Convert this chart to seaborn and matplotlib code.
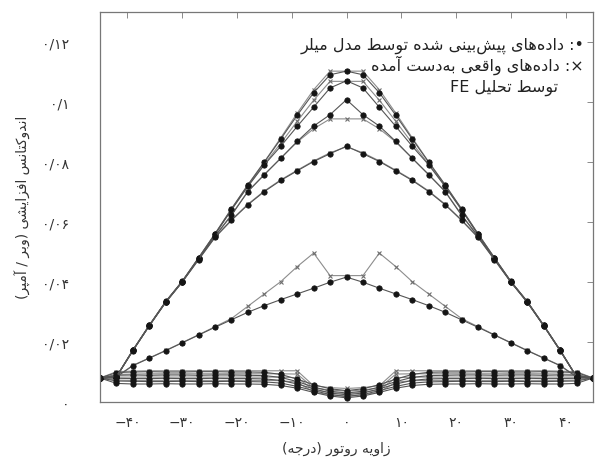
import re
import numpy as np
import pandas as pd
import matplotlib
matplotlib.use("Agg")
import matplotlib.pyplot as plt
import seaborn as sns

# angles sampled every 3 degrees; profiles below are for |angle| = 0, 3, ..., 45
half_angles = [0, 3, 6, 9, 12, 15, 18, 21, 24, 27, 30, 33, 36, 39, 42, 45]

# predicted by the Miller model (dots)
pred_curves = {
    "p1": [0.1102, 0.1090, 0.1030, 0.0955, 0.0876, 0.0799, 0.0723, 0.0643, 0.0560, 0.0480, 0.0402, 0.0335, 0.0256, 0.0173, 0.0084, 0.0080],
    "p2": [0.1070, 0.1046, 0.0982, 0.0918, 0.0852, 0.0790, 0.0718, 0.0640, 0.0558, 0.0479, 0.0401, 0.0334, 0.0255, 0.0172, 0.0084, 0.0080],
    "p3": [0.1007, 0.0957, 0.0919, 0.0868, 0.0812, 0.0757, 0.0701, 0.0622, 0.0552, 0.0477, 0.0400, 0.0333, 0.0254, 0.0172, 0.0084, 0.0080],
    "p4": [0.0852, 0.0827, 0.0801, 0.0770, 0.0738, 0.0701, 0.0657, 0.0605, 0.0548, 0.0474, 0.0399, 0.0332, 0.0254, 0.0171, 0.0084, 0.0080],
    "pm": [0.0416, 0.0399, 0.0379, 0.0360, 0.0341, 0.0321, 0.0299, 0.0274, 0.0249, 0.0223, 0.0197, 0.0171, 0.0146, 0.0121, 0.0084, 0.0080],
    "b1": [0.0038, 0.0044, 0.0058, 0.0076, 0.0092, 0.0099, 0.0100, 0.0100, 0.0101, 0.0101, 0.0100, 0.0100, 0.0101, 0.0100, 0.0098, 0.0080],
    "b2": [0.0030, 0.0036, 0.0050, 0.0068, 0.0082, 0.0088, 0.0089, 0.0090, 0.0090, 0.0089, 0.0090, 0.0090, 0.0089, 0.0090, 0.0089, 0.0080],
    "b3": [0.0024, 0.0030, 0.0044, 0.0060, 0.0072, 0.0077, 0.0078, 0.0078, 0.0079, 0.0078, 0.0078, 0.0079, 0.0078, 0.0078, 0.0079, 0.0080],
    "b4": [0.0018, 0.0025, 0.0038, 0.0052, 0.0063, 0.0067, 0.0068, 0.0069, 0.0068, 0.0068, 0.0069, 0.0068, 0.0068, 0.0069, 0.0070, 0.0080],
    "b5": [0.0014, 0.0020, 0.0032, 0.0046, 0.0055, 0.0059, 0.0060, 0.0060, 0.0061, 0.0060, 0.0060, 0.0061, 0.0060, 0.0060, 0.0062, 0.0080],
}

# real values from FE analysis (crosses)
real_curves = {
    "r1": [0.1102, 0.1102, 0.1040, 0.0962, 0.0880, 0.0800, 0.0724, 0.0644, 0.0561, 0.0481, 0.0402, 0.0335, 0.0256, 0.0173, 0.0084, 0.0080],
    "r2": [0.1068, 0.1068, 0.1005, 0.0935, 0.0862, 0.0792, 0.0720, 0.0641, 0.0559, 0.0480, 0.0402, 0.0334, 0.0255, 0.0172, 0.0084, 0.0080],
    "r3": [0.0943, 0.0943, 0.0910, 0.0866, 0.0812, 0.0758, 0.0702, 0.0624, 0.0553, 0.0478, 0.0401, 0.0333, 0.0254, 0.0172, 0.0084, 0.0080],
    "r4": [0.0850, 0.0830, 0.0803, 0.0772, 0.0740, 0.0703, 0.0659, 0.0607, 0.0550, 0.0475, 0.0400, 0.0332, 0.0254, 0.0171, 0.0084, 0.0080],
    "rm": [0.0421, 0.0421, 0.0496, 0.0451, 0.0401, 0.0360, 0.0319, 0.0278, 0.0251, 0.0224, 0.0198, 0.0172, 0.0147, 0.0122, 0.0084, 0.0080],
    "s1": [0.0045, 0.0048, 0.0054, 0.0104, 0.0104, 0.0104, 0.0104, 0.0104, 0.0104, 0.0104, 0.0104, 0.0104, 0.0104, 0.0103, 0.0101, 0.0080],
    "s2": [0.0036, 0.0040, 0.0047, 0.0093, 0.0094, 0.0094, 0.0094, 0.0094, 0.0094, 0.0094, 0.0094, 0.0094, 0.0094, 0.0093, 0.0092, 0.0080],
    "s3": [0.0028, 0.0032, 0.0040, 0.0081, 0.0083, 0.0083, 0.0083, 0.0083, 0.0083, 0.0083, 0.0083, 0.0083, 0.0083, 0.0083, 0.0083, 0.0080],
    "s4": [0.0020, 0.0024, 0.0033, 0.0066, 0.0071, 0.0072, 0.0072, 0.0072, 0.0072, 0.0072, 0.0072, 0.0072, 0.0072, 0.0072, 0.0073, 0.0080],
}

x_ticks = [-40, -30, -20, -10, 0, 10, 20, 30, 40]
x_ticklabels = ["−۴۰", "−۳۰", "−۲۰", "−۱۰", "۰", "۱۰", "۲۰", "۳۰", "۴۰"]
y_ticks = [0, 0.02, 0.04, 0.06, 0.08, 0.10, 0.12]
y_ticklabels = ["۰", "۰/۰۲", "۰/۰۴", "۰/۰۶", "۰/۰۸", "۰/۱", "۰/۱۲"]

x_label = "زاویه روتور (درجه)"
y_label = "اندوکتانس افزایشی (وبر / آمپر)"
legend_lines = [
    "•: داده‌های پیش‌بینی شده توسط مدل میلر",
    "×: داده‌های واقعی به‌دست آمده",
    "توسط تحلیل FE",
]

# Persian letters -> (isolated, final, initial, medial) presentation forms
FORMS = {
    "ا": ("\ufe8d", "\ufe8e", None, None),
    "آ": ("\ufe81", "\ufe82", None, None),
    "ب": ("\ufe8f", "\ufe90", "\ufe91", "\ufe92"),
    "پ": ("\ufb56", "\ufb57", "\ufb58", "\ufb59"),
    "ت": ("\ufe95", "\ufe96", "\ufe97", "\ufe98"),
    "ج": ("\ufe9d", "\ufe9e", "\ufe9f", "\ufea0"),
    "ح": ("\ufea1", "\ufea2", "\ufea3", "\ufea4"),
    "د": ("\ufea9", "\ufeaa", None, None),
    "ر": ("\ufead", "\ufeae", None, None),
    "ز": ("\ufeaf", "\ufeb0", None, None),
    "س": ("\ufeb1", "\ufeb2", "\ufeb3", "\ufeb4"),
    "ش": ("\ufeb5", "\ufeb6", "\ufeb7", "\ufeb8"),
    "ط": ("\ufec1", "\ufec2", "\ufec3", "\ufec4"),
    "ع": ("\ufec9", "\ufeca", "\ufecb", "\ufecc"),
    "ف": ("\ufed1", "\ufed2", "\ufed3", "\ufed4"),
    "ق": ("\ufed5", "\ufed6", "\ufed7", "\ufed8"),
    "ک": ("\ufb8e", "\ufb8f", "\ufb90", "\ufb91"),
    "ل": ("\ufedd", "\ufede", "\ufedf", "\ufee0"),
    "م": ("\ufee1", "\ufee2", "\ufee3", "\ufee4"),
    "ن": ("\ufee5", "\ufee6", "\ufee7", "\ufee8"),
    "ه": ("\ufee9", "\ufeea", "\ufeeb", "\ufeec"),
    "و": ("\ufeed", "\ufeee", None, None),
    "ی": ("\ufbfc", "\ufbfd", "\ufbfe", "\ufbff"),
}
MIRROR = {"(": ")", ")": "("}


def fa(text):
    """Shape Persian text and put it in visual (left-to-right) order."""
    text = text.replace("\u064a", "\u06cc").replace("\u0643", "\u06a9")
    shaped = []
    for i, ch in enumerate(text):
        if ch not in FORMS:
            if ch != "\u200c":
                shaped.append(ch)
            continue
        prev = text[i - 1] if i > 0 else ""
        nxt = text[i + 1] if i + 1 < len(text) else ""
        join_prev = prev in FORMS and FORMS[prev][2] is not None
        join_next = nxt in FORMS and FORMS[ch][2] is not None
        iso, fin, ini, med = FORMS[ch]
        if join_prev and join_next:
            shaped.append(med)
        elif join_prev:
            shaped.append(fin)
        elif join_next:
            shaped.append(ini)
        else:
            shaped.append(iso)
    runs = re.findall(r"[A-Za-z0-9.]+|[^A-Za-z0-9.]+", "".join(shaped))
    visual = []
    for run in reversed(runs):
        if re.match(r"[A-Za-z0-9.]", run):
            visual.append(run)
        else:
            visual.append("".join(MIRROR.get(c, c) for c in reversed(run)))
    return "".join(visual)


def to_long(curves, kind):
    rows = []
    full_angles = [-a for a in half_angles[::-1]] + half_angles[1:]
    for name, half in curves.items():
        values = half[::-1] + half[1:]
        for a, v in zip(full_angles, values):
            rows.append({"angle": a, "value": v, "curve": name, "kind": kind})
    return pd.DataFrame(rows)


real_df = to_long(real_curves, "real")
pred_df = to_long(pred_curves, "pred")

sns.set_theme(style="white")
plt.rcParams["font.family"] = ["DejaVu Sans"]

fig = plt.figure(figsize=(6.0, 4.6), dpi=100)
ax = fig.add_axes([0.1667, 0.1239, 0.8216, 0.8485])

sns.lineplot(data=real_df, x="angle", y="value", units="curve", estimator=None,
             color="#8c8c8c", lw=0.8, marker="x", markersize=3.2,
             markeredgecolor="#6e6e6e", markeredgewidth=0.8, ax=ax, legend=False)
sns.lineplot(data=pred_df, x="angle", y="value", units="curve", estimator=None,
             color="#555555", lw=0.8, marker="o", markersize=3.9,
             markerfacecolor="#151515", markeredgecolor="#151515",
             markeredgewidth=0.5, ax=ax, legend=False)

ax.set_xlim(-45, 45)
ax.set_ylim(0, 0.13)
ax.set_xticks(x_ticks)
ax.set_xticklabels(x_ticklabels)
ax.set_yticks(y_ticks)
ax.set_yticklabels(y_ticklabels)
ax.tick_params(axis="both", direction="in", length=4, width=0.6, color="#777777",
               labelsize=10, labelcolor="#333333", top=True, right=True)
ax.tick_params(axis="y", pad=22)
ax.tick_params(axis="x", pad=9)
for spine in ax.spines.values():
    spine.set_color("#777777")
    spine.set_linewidth(0.9)

ax.set_xlabel(fa(x_label), fontsize=10, color="#333333")
ax.set_ylabel(fa(y_label), fontsize=10, color="#333333")
ax.xaxis.set_label_coords(0.48, -0.1)
ax.yaxis.set_label_coords(-0.14, 0.5)

ax.text(0.982, 0.915, fa(legend_lines[0]), transform=ax.transAxes,
        ha="right", va="center", fontsize=11.5, color="#222222")
ax.text(0.982, 0.866, fa(legend_lines[1]), transform=ax.transAxes,
        ha="right", va="center", fontsize=11.5, color="#222222")
ax.text(0.93, 0.807, fa(legend_lines[2]), transform=ax.transAxes,
        ha="right", va="center", fontsize=11.5, color="#222222")

fig.savefig("out.png", dpi=100)
